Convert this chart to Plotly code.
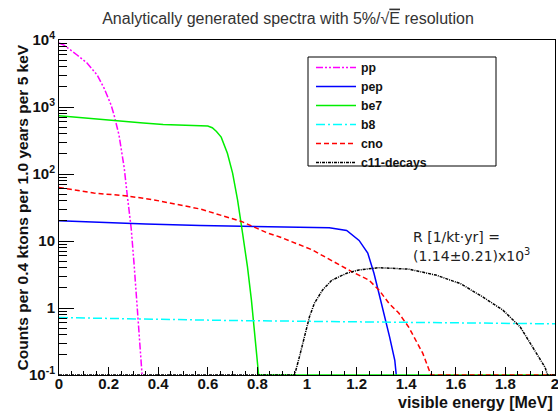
import plotly.graph_objects as go

# ---- data ----
pp_x = [0, 0.02, 0.073, 0.113, 0.154, 0.182, 0.21, 0.222, 0.242, 0.263, 0.275, 0.291, 0.303, 0.315, 0.327, 0.335]
pp_y = [9000, 8400, 5970, 4540, 3000, 1900, 1070, 760, 380, 123, 49, 15.6, 4.4, 1.0, 0.31, 0.1]

pep_x = [0, 0.15, 0.35, 0.57, 0.8, 1.0, 1.09, 1.16, 1.21, 1.245, 1.27, 1.29, 1.31, 1.333, 1.354, 1.36]
pep_y = [20, 19, 18, 17, 16.5, 16.2, 15.8, 14.4, 10.2, 6.6, 3.3, 1.66, 0.84, 0.37, 0.166, 0.1]

be7_x = [0, 0.06, 0.21, 0.34, 0.42, 0.578, 0.60, 0.618, 0.635, 0.654, 0.679, 0.70, 0.72, 0.74, 0.76, 0.776, 0.788, 0.80, 0.805, 2.0]
be7_y = [740, 705, 640, 575, 550, 535, 520, 490, 430, 355, 204, 103, 41, 13.2, 4.1, 1.3, 0.43, 0.13, 0.1, 0.1]

b8_x = [0, 0.35, 0.7, 1.05, 1.4, 1.7, 2.0]
b8_y = [0.72, 0.68, 0.65, 0.63, 0.61, 0.59, 0.58]

cno_x = [0, 0.14, 0.275, 0.384, 0.57, 0.735, 0.84, 0.89, 1.02, 1.18, 1.25, 1.29, 1.33, 1.37, 1.41, 1.44, 1.467, 1.50, 2.0]
cno_y = [63, 52, 47, 41, 30, 19.6, 13.2, 11.5, 7.4, 3.5, 2.6, 1.86, 1.18, 0.84, 0.52, 0.33, 0.21, 0.1, 0.1]

c11_x = [0, 0.95, 0.97, 0.99, 1.01, 1.03, 1.063, 1.10, 1.16, 1.21, 1.29, 1.41, 1.52, 1.62, 1.71, 1.79, 1.86, 1.91, 1.96, 1.97, 2.0]
c11_y = [0.1, 0.1, 0.19, 0.37, 0.74, 1.18, 1.86, 2.6, 3.3, 3.7, 4.0, 3.8, 3.1, 2.3, 1.45, 0.93, 0.52, 0.26, 0.13, 0.1, 0.1]

y_tickvals = [0.1, 1, 10, 100, 1000, 10000]
y_ticktext = ["10<sup>-1</sup>", "1", "10", "10<sup>2</sup>", "10<sup>3</sup>", "10<sup>4</sup>"]
x_tickvals = [0, 0.2, 0.4, 0.6, 0.8, 1.0, 1.2, 1.4, 1.6, 1.8, 2.0]
x_ticktext = ["0", "0.2", "0.4", "0.6", "0.8", "1", "1.2", "1.4", "1.6", "1.8", "2"]

series = [
    ("pp", pp_x, pp_y, "#ff00ff", "7px,2px,2px,2px,2px,2px"),
    ("pep", pep_x, pep_y, "#0000ff", "solid"),
    ("be7", be7_x, be7_y, "#00ee00", "solid"),
    ("b8", b8_x, b8_y, "#00ffff", "9px,3px,2px,3px"),
    ("cno", cno_x, cno_y, "#ff0000", "5px,3px"),
    ("c11-decays", c11_x, c11_y, "#000000", "3px,1px,1px,1px"),
]

fig = go.Figure()
for name, xs, ys, col, dash in series:
    fig.add_trace(go.Scatter(x=xs, y=ys, mode="lines", name=name,
                             line=dict(color=col, width=1.5, dash=dash)))

minor_y = [m * 10 ** e for e in range(-1, 4) for m in range(2, 10)]

FONT = "Liberation Sans, Arial, sans-serif"
L, R, T, B = 59, 3, 40, 39
PW, PH = 558 - L - R, 414 - T - B


def px_x(p):
    return (p - L) / PW


def px_y(p):
    return (414 - B - p) / PH


fig.update_layout(
    width=558, height=414,
    margin=dict(l=L, r=R, t=T, b=B),
    paper_bgcolor="white", plot_bgcolor="white",
    title=dict(text="Analytically generated spectra with 5%/√<span style='text-decoration:overline'>E</span> resolution",
               x=288 / 558, xanchor="center", y=1 - 18 / 414, yanchor="middle",
               font=dict(family=FONT, size=16, color="#333333")),
    showlegend=True,
    legend=dict(x=px_x(311), y=px_y(53), xanchor="left", yanchor="top",
                bgcolor="rgba(0,0,0,0)", borderwidth=0,
                font=dict(family=FONT, size=12.3, color="#111111", weight="bold"),
                tracegroupgap=0, itemwidth=40),
    font=dict(family=FONT, color="black"),
)

fig.update_xaxes(range=[0, 2], showgrid=False, zeroline=False, automargin=False,
                 showline=True, linecolor="black", linewidth=1, mirror=True,
                 ticks="inside", ticklen=8, tickcolor="black",
                 tickmode="array", tickvals=x_tickvals, ticktext=x_ticktext,
                 tickfont=dict(family=FONT, size=15, color="#111111", weight="bold"),
                 ticklabelstandoff=-5, ticklabeloverflow="allow",
                 minor=dict(ticks="inside", dtick=0.05, tick0=0, ticklen=4, tickcolor="black", showgrid=False))
fig.update_yaxes(type="log", range=[-1, 4], showgrid=False, zeroline=False, automargin=False,
                 showline=True, linecolor="black", linewidth=1, mirror=True,
                 ticks="inside", ticklen=15, tickcolor="black",
                 tickmode="array", tickvals=y_tickvals, ticktext=y_ticktext,
                 tickfont=dict(family=FONT, size=15, color="#111111", weight="bold"),
                 ticklabelstandoff=0, ticklabeloverflow="allow",
                 minor=dict(ticks="inside", tickmode="array", tickvals=minor_y, ticklen=8,
                            tickcolor="black", showgrid=False))

# y-axis title (ROOT style)
fig.add_annotation(text="Counts per 0.4 ktons per 1.0 years per 5 keV", xref="paper", yref="paper",
                   x=px_x(22), y=0.5, xanchor="center", yanchor="middle", textangle=-90,
                   showarrow=False, font=dict(family=FONT, size=15.5, color="#111111", weight="bold"))

# legend frame
fig.add_shape(type="rect", xref="paper", yref="paper",
              x0=px_x(308), x1=px_x(496), y0=px_y(166), y1=px_y(57),
              line=dict(color="black", width=1), fillcolor="rgba(0,0,0,0)")

fig.add_annotation(text="visible energy [MeV]", xref="paper", yref="paper",
                   x=1, y=px_y(402), xanchor="right", yanchor="middle", showarrow=False,
                   font=dict(family=FONT, size=16, color="#111111", weight="bold"))
fig.add_annotation(text="R [1/kt·yr] =", xref="paper", yref="paper",
                   x=px_x(411), y=px_y(237), xanchor="left", yanchor="middle",
                   showarrow=False, font=dict(family="DejaVu Sans", size=14, color="#222222"))
fig.add_annotation(text="(1.14±0.21)x10<sup>3</sup>", xref="paper", yref="paper",
                   x=px_x(411), y=px_y(255), xanchor="left", yanchor="middle",
                   showarrow=False, font=dict(family="DejaVu Sans", size=14, color="#222222"))

fig.write_html("out.html", config={"displayModeBar": False},
               post_script="document.body.style.margin='0';")
